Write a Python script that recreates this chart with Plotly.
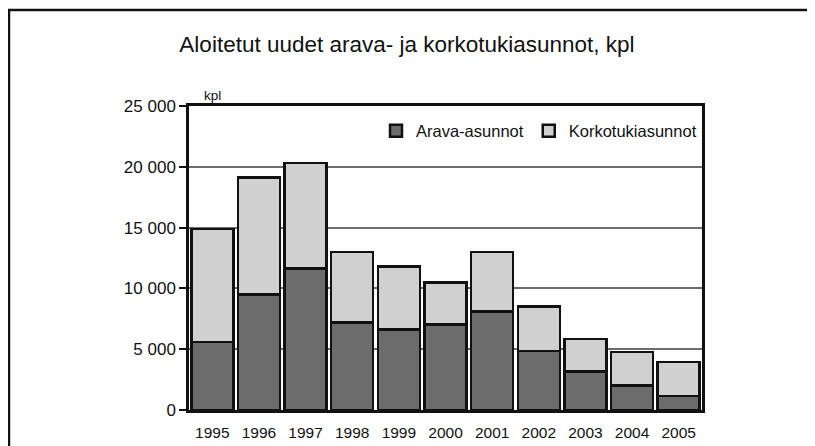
import plotly.graph_objects as go

years = ["1995", "1996", "1997", "1998", "1999", "2000", "2001", "2002", "2003", "2004", "2005"]
arava = [5600, 9500, 11650, 7200, 6600, 7050, 8100, 4850, 3150, 2000, 1150]
korkotuki = [9300, 9600, 8650, 5800, 5200, 3450, 4900, 3650, 2700, 2750, 2800]
ytick_vals = [0, 5000, 10000, 15000, 20000, 25000]
ytick_text = ["0", "5 000", "10 000", "15 000", "20 000", "25 000"]

FONT = "Liberation Sans Narrow, Arial Narrow, Liberation Sans, Arial, sans-serif"

# plot area in figure pixels (page body adds an 8px offset)
L, R, T, B = 181, 121, 98, 44
W, H = 815, 446
PW, PH = W - L - R, H - T - B

fig = go.Figure()
fig.add_trace(go.Bar(x=years, y=arava, name="Arava-asunnot",
                     marker=dict(color="#6c6c6c", line=dict(color="#111111", width=2.5))))
fig.add_trace(go.Bar(x=years, y=korkotuki, name="Korkotukiasunnot",
                     marker=dict(color="#d0d0d0", line=dict(color="#111111", width=2.5))))

fig.update_layout(
    barmode="stack",
    bargap=0.1,
    width=W, height=H,
    margin=dict(l=L, r=R, t=T, b=B),
    paper_bgcolor="white", plot_bgcolor="white",
    font=dict(family=FONT, size=15, color="#111111"),
    title=dict(text="Aloitetut uudet arava- ja korkotukiasunnot, kpl",
               x=399 / W, xref="container", xanchor="center",
               y=1 - 36 / H, yref="container", yanchor="middle",
               font=dict(family=FONT, size=22.5, color="#111111")),
    showlegend=True,
    legend=dict(orientation="h", x=1.0, xanchor="right", y=0.975, yanchor="top",
                bgcolor="rgba(0,0,0,0)", font=dict(size=16.5), traceorder="normal",
                itemwidth=30, tracegroupgap=0),
    xaxis=dict(type="category", showline=True, linecolor="#111111", linewidth=2.5,
               mirror=True, ticks="", showgrid=False, tickfont=dict(size=15.5),
               ticklabelstandoff=7),
    yaxis=dict(range=[0, 25000], tickvals=ytick_vals, ticktext=ytick_text,
               showline=True, linecolor="#111111", linewidth=2.5, mirror=True,
               ticks="outside", ticklen=7, tickcolor="#111111", tickwidth=1.5,
               ticklabelstandoff=0,
               showgrid=True, gridcolor="#6e6e6e", gridwidth=1.5,
               tickfont=dict(size=17), zeroline=False),
)

fig.add_annotation(text="kpl", xref="paper", yref="paper", x=0.0, y=1.0,
                   xanchor="left", yanchor="bottom", xshift=13, yshift=1,
                   showarrow=False, font=dict(family=FONT, size=13.5, color="#111111"))

# outer frame
fig.add_shape(type="rect", xref="paper", yref="paper",
              x0=-(L - 1) / PW, x1=1.4, y0=-0.3, y1=1 + (T - 2) / PH,
              line=dict(color="#111111", width=2.5), fillcolor="rgba(0,0,0,0)", layer="below")

fig.write_html("out.html")
